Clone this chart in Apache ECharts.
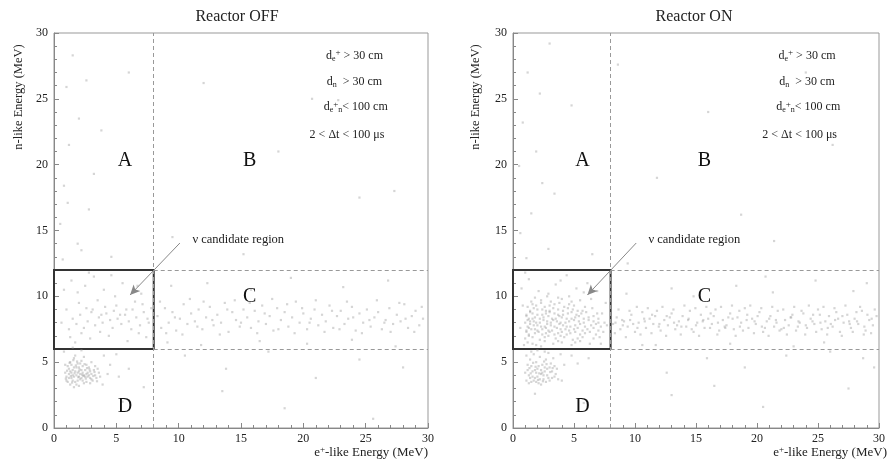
<!DOCTYPE html>
<html><head><meta charset="utf-8">
<script src="https://cdn.jsdelivr.net/npm/echarts@6/dist/echarts.min.js"></script>
<style>html,body{margin:0;padding:0;background:#fff}#c{width:888px;height:464px}</style>
</head><body><div id="c"></div>
<script>
// ---------- data (MeV) ----------
var panelTitles = ['Reactor OFF', 'Reactor ON'];
var axisTicks = [0, 5, 10, 15, 20, 25, 30];
var regionLetters = [['A', 5.7, 20.3], ['B', 15.7, 20.3], ['C', 15.7, 10.0], ['D', 5.7, 1.6]];
var cutLines = ['d_e+ > 30 cm', 'd_n > 30 cm', 'd_e+n < 100 cm', '2 < Δt < 100 μs'];

var offD = [[1.0,3.6],[1.2,4.1],[1.4,3.8],[1.5,4.4],[1.7,3.5],[1.8,4.0],[2.0,4.6],[2.1,3.7],[2.3,4.2],[2.4,3.4],[2.6,4.8],[2.7,3.9],[2.9,4.3],[3.1,3.6],[3.3,4.0],[3.5,4.5],[1.1,4.7],[1.3,5.0],[1.6,5.3],[1.9,4.9],[2.2,5.1],[2.5,4.4],[2.8,4.6],[3.0,5.0],[3.4,3.8],[3.6,4.2],[0.9,4.2],[1.0,3.9],[1.3,3.3],[1.6,3.1],[2.0,3.2],[2.3,3.6],[2.6,3.5],[2.9,3.8],[3.2,4.4],[1.5,4.0],[1.7,4.3],[1.9,3.6],[2.1,4.1],[2.4,4.0],[1.2,4.5],[1.4,4.8],[1.8,4.6],[2.2,4.4],[2.7,4.2],[1.1,3.5],[1.5,3.6],[2.0,3.9],[2.5,3.9],[3.0,4.1],[1.3,4.3],[1.6,4.6],[2.2,3.8],[2.8,4.0],[3.7,3.9],[1.7,5.5],[2.4,5.4],[0.9,4.8],[1.8,3.3],[2.9,3.4],[3.3,4.7],[1.4,4.2],[2.0,4.3],[2.6,4.1],[1.9,4.2],[1.2,3.8],[2.3,4.7],[1.6,3.9],[2.1,4.9],[3.0,3.7],[1.05,4.35],[1.35,3.95],[1.65,4.15],[1.95,3.85],[2.25,4.05],[2.55,3.75],[2.85,4.45],[3.15,3.95],[1.45,3.45],[1.75,4.75],[2.05,4.45],[2.35,3.95],[2.65,4.55],[1.25,4.95],[1.55,5.15],[1.85,5.05],[2.45,4.85],[3.25,4.25],[3.45,3.55],[0.95,3.75],[4.5,4.8],[5.2,3.9],[4.0,5.5],[3.9,3.3],[6.0,4.5],[0.8,5.8],[1.5,6.1],[2.2,5.9],[4.3,4.1],[5.0,5.6]];
var offBox = [[1.2,7.5],[1.5,8.3],[1.8,7.9],[2.1,8.6],[2.4,7.6],[2.7,8.1],[3.0,8.8],[3.3,7.8],[3.6,8.4],[3.9,8.0],[4.2,8.7],[4.5,8.2],[4.8,8.9],[5.1,8.3],[5.4,7.9],[5.7,8.6],[6.0,8.1],[6.3,9.0],[6.6,8.4],[6.9,7.8],[7.2,8.8],[7.5,8.3],[7.8,9.1],[2.0,9.5],[3.5,9.7],[5.0,9.3],[6.5,9.6],[7.0,10.2],[4.0,10.5],[2.5,10.8],[1.4,11.2],[3.2,11.5],[5.5,11.0],[6.8,7.2],[4.4,7.0],[2.9,6.8],[1.7,6.5],[5.9,6.6],[7.4,6.9],[3.7,7.3],[1.0,9.0],[0.6,8.0],[2.2,7.2],[4.7,7.6],[6.2,7.5],[5.3,8.6],[4.1,9.2],[3.1,9.0],[7.6,8.0],[6.7,10.8],[1.9,10.3],[4.9,10.0],[3.8,8.6],[2.6,9.1],[5.8,9.0],[7.1,9.4],[1.3,6.9],[0.8,10.5],[2.8,11.8],[4.6,11.6]];
var offC = [[8.3,8.5],[8.6,7.6],[8.9,9.1],[9.2,8.0],[9.5,8.8],[9.8,7.4],[10.1,8.3],[10.4,9.4],[10.7,7.9],[11.0,8.7],[11.3,8.1],[11.6,9.0],[11.9,7.5],[12.2,8.4],[12.5,9.2],[12.8,7.8],[13.1,8.6],[13.4,8.0],[13.7,9.5],[14.0,7.3],[14.3,8.8],[14.6,8.2],[14.9,7.7],[15.2,9.0],[15.5,8.4],[15.8,7.6],[16.1,8.9],[16.4,8.1],[16.7,9.3],[17.0,7.9],[17.3,8.5],[17.6,7.4],[17.9,9.1],[18.2,8.2],[18.5,8.8],[18.8,7.7],[19.1,8.4],[19.4,9.6],[19.7,8.0],[20.0,8.7],[20.3,7.5],[20.6,8.3],[20.9,9.0],[21.2,7.8],[21.5,8.6],[21.8,8.1],[22.1,9.3],[22.4,7.6],[22.7,8.5],[23.0,8.9],[23.3,7.9],[23.6,8.3],[23.9,9.2],[24.2,7.4],[24.5,8.7],[24.8,8.0],[25.1,9.0],[25.4,7.7],[25.7,8.4],[26.0,8.8],[26.3,7.5],[26.6,8.2],[26.9,9.1],[27.2,7.9],[27.5,8.6],[27.8,8.1],[28.1,9.4],[28.4,7.6],[28.7,8.5],[29.0,8.9],[29.3,7.8],[29.6,8.3],[8.5,9.6],[9.0,7.2],[9.7,8.4],[10.3,7.1],[10.9,9.8],[11.5,7.7],[12.0,9.6],[12.7,8.2],[13.3,7.1],[13.9,9.0],[14.5,9.7],[15.0,8.0],[15.7,9.5],[16.3,7.2],[16.9,8.7],[17.5,9.8],[18.0,7.5],[18.7,9.4],[19.3,7.2],[19.9,9.1],[20.5,8.0],[21.0,9.7],[21.7,7.3],[22.3,8.9],[22.9,7.5],[23.5,9.6],[24.0,8.4],[24.7,7.2],[25.3,8.2],[25.9,9.7],[26.5,8.0],[27.0,7.3],[27.7,9.5],[28.2,8.3],[28.9,7.3],[29.5,9.2],[9.4,10.8],[12.3,11.0],[15.8,10.5],[19.0,11.4],[23.2,10.7],[26.8,11.2],[10.5,5.5],[13.8,4.5],[17.2,5.8],[21.0,3.8],[24.5,5.2],[28.0,4.6],[11.8,6.3],[20.3,6.4],[27.4,6.2],[16.5,6.6],[23.9,6.7],[9.1,6.5]];
var offSparse = [[1.5,28.3],[2.0,23.5],[1.2,21.5],[0.8,18.4],[2.8,16.6],[1.9,14.0],[2.2,13.5],[0.5,15.5],[3.2,19.3],[1.0,25.9],[4.6,13.0],[12.0,26.2],[24.5,17.5],[18.0,21.0],[9.5,14.5],[27.3,18.0],[15.2,13.2],[6.0,27.0],[20.7,25.0],[0.7,12.8],[22.8,24.9],[3.8,22.6],[1.1,17.1],[2.6,26.4],[5.5,2.0],[18.5,1.5],[25.6,0.7],[13.5,2.8],[7.2,3.1]];

var onD = [[1.1,3.6],[1.3,4.0],[1.5,3.5],[1.6,4.3],[1.8,3.8],[2.0,4.5],[2.1,3.4],[2.3,4.1],[2.5,3.7],[2.6,4.6],[2.8,4.0],[3.0,3.6],[3.2,4.3],[3.4,3.9],[3.6,4.5],[1.2,4.8],[1.4,5.2],[1.7,5.6],[1.9,5.0],[2.2,5.4],[2.4,4.8],[2.7,5.2],[2.9,5.7],[3.1,4.9],[3.3,5.3],[1.0,4.2],[1.5,4.7],[2.0,3.9],[2.6,4.3],[3.0,4.6],[1.3,3.4],[1.8,4.4],[2.2,3.7],[2.4,4.2],[2.9,3.8],[3.5,4.1],[1.6,3.9],[2.1,4.7],[2.7,3.5],[1.2,4.4],[1.4,3.8],[1.9,4.2],[2.3,4.4],[2.5,4.0],[2.8,4.5],[3.2,3.8],[1.7,3.6],[2.0,5.9],[1.5,5.8],[2.6,5.8],[3.4,4.7],[3.7,3.7],[1.1,5.5],[2.3,3.3],[1.9,3.5],[2.75,4.85],[2.15,4.15],[1.65,4.95],[1.35,4.55],[2.45,3.55],[3.05,4.25],[1.85,4.65],[2.55,5.05],[3.25,4.55],[1.45,4.15],[2.05,3.65],[4.2,4.8],[4.8,5.5],[4.0,3.6],[5.3,4.9],[3.9,5.6],[6.2,5.3]];
var onBox = [[1.2,6.5],[1.9,6.3],[2.6,6.6],[3.3,6.4],[4.0,6.5],[4.8,6.3],[5.5,6.6],[6.3,6.4],[1.6,6.4],[2.3,6.2],[3.7,6.6],[5.1,6.5],[1.0,6.8],[1.6,6.9],[2.2,6.7],[2.9,7.0],[3.5,6.8],[4.2,6.9],[4.9,6.7],[5.7,6.9],[6.6,6.8],[1.3,7.0],[2.6,6.9],[3.9,7.0],[5.3,6.8],[7.1,6.9],[1.3,7.1],[1.8,7.2],[2.4,7.1],[3.0,7.3],[3.7,7.2],[4.4,7.1],[5.1,7.3],[5.9,7.2],[6.8,7.1],[7.4,7.3],[1.1,7.3],[2.1,7.3],[2.7,7.2],[3.4,7.1],[4.0,7.3],[4.7,7.2],[5.5,7.1],[6.3,7.3],[1.1,7.4],[1.5,7.5],[2.0,7.4],[2.7,7.6],[3.2,7.4],[3.9,7.5],[4.6,7.4],[5.3,7.6],[6.1,7.5],[7.0,7.4],[1.3,7.6],[1.8,7.5],[2.4,7.5],[2.9,7.4],[3.6,7.6],[4.3,7.5],[5.0,7.5],[5.7,7.4],[6.6,7.6],[1.2,7.7],[1.7,7.8],[2.3,7.7],[2.8,7.9],[3.4,7.7],[4.1,7.8],[4.7,7.7],[5.5,7.9],[6.4,7.8],[7.2,7.7],[1.4,7.9],[2.0,7.8],[2.6,7.7],[3.1,7.8],[3.8,7.9],[4.4,7.7],[5.1,7.8],[5.9,7.7],[6.8,7.9],[1.0,8.0],[1.4,8.1],[1.9,8.0],[2.5,8.2],[3.1,8.0],[3.6,8.1],[4.3,8.0],[5.0,8.2],[5.8,8.0],[6.6,8.1],[7.5,8.0],[1.2,8.2],[1.7,8.1],[2.2,8.0],[2.8,8.1],[3.3,8.2],[3.9,8.0],[4.6,8.1],[5.4,8.1],[6.2,8.2],[7.0,8.0],[1.3,8.3],[1.8,8.4],[2.2,8.3],[2.9,8.5],[3.5,8.3],[4.0,8.4],[4.8,8.3],[5.4,8.5],[6.2,8.4],[7.0,8.3],[1.1,8.5],[1.6,8.3],[2.5,8.4],[3.2,8.3],[3.8,8.5],[4.4,8.3],[5.1,8.4],[5.8,8.3],[6.6,8.5],[1.1,8.6],[1.6,8.7],[2.4,8.6],[3.0,8.8],[3.7,8.6],[4.5,8.7],[5.2,8.6],[6.0,8.8],[6.9,8.7],[1.4,8.8],[2.0,8.6],[2.7,8.7],[3.4,8.7],[4.1,8.6],[4.8,8.8],[5.6,8.7],[1.4,8.9],[2.0,9.0],[2.7,8.9],[3.3,9.1],[4.1,8.9],[4.9,9.0],[5.7,8.9],[6.5,9.1],[1.7,9.1],[2.4,9.0],[3.0,8.9],[3.7,9.0],[4.5,9.1],[5.3,8.9],[1.2,9.2],[1.9,9.3],[2.6,9.2],[3.4,9.4],[4.2,9.2],[5.0,9.3],[5.9,9.2],[1.6,9.4],[2.3,9.5],[3.0,9.3],[3.8,9.5],[4.6,9.4],[1.5,9.6],[2.3,9.7],[3.1,9.6],[4.0,9.8],[4.8,9.6],[1.8,9.9],[2.8,10.0],[3.7,9.9],[4.6,10.0],[5.5,9.7],[2.1,10.4],[3.5,10.9],[1.3,11.3],[5.2,10.6],[6.4,9.8],[4.4,11.6],[0.8,9.3],[7.3,8.7],[7.7,7.8],[0.6,7.6],[2.9,10.2],[6.1,11.0],[0.7,10.6],[7.6,9.5],[6.9,10.4],[1.0,11.8],[3.9,11.2],[7.2,6.4],[0.9,6.3],[5.8,10.3]];
var onC = [[8.2,7.9],[8.5,8.4],[8.8,7.5],[9.1,8.1],[9.4,7.7],[9.7,8.6],[10.0,7.3],[10.3,8.0],[10.6,8.8],[10.9,7.6],[11.2,8.3],[11.5,7.9],[11.8,8.9],[12.1,7.4],[12.4,8.2],[12.7,7.8],[13.0,8.7],[13.3,7.5],[13.6,8.1],[13.9,8.5],[14.2,7.7],[14.5,8.9],[14.8,7.3],[15.1,8.0],[15.4,8.6],[15.7,7.6],[16.0,8.3],[16.3,7.9],[16.6,9.0],[16.9,7.4],[17.2,8.2],[17.5,7.8],[17.8,8.7],[18.1,7.5],[18.4,8.4],[18.7,8.0],[19.0,9.1],[19.3,7.6],[19.6,8.3],[19.9,7.9],[20.2,8.8],[20.5,7.3],[20.8,8.1],[21.1,8.5],[21.4,7.7],[21.7,8.9],[22.0,7.5],[22.3,8.2],[22.6,7.8],[22.9,8.6],[23.2,7.4],[23.5,8.0],[23.8,8.7],[24.1,7.6],[24.4,8.3],[24.7,7.9],[25.0,9.0],[25.3,7.5],[25.6,8.1],[25.9,8.5],[26.2,7.7],[26.5,8.8],[26.8,7.3],[27.1,8.0],[27.4,8.6],[27.7,7.6],[28.0,8.3],[28.3,7.9],[28.6,8.9],[28.9,7.4],[29.2,8.2],[29.5,7.8],[29.8,8.5],[8.35,7.2],[8.65,9.0],[8.95,8.2],[9.25,6.9],[9.55,8.9],[9.85,7.9],[10.15,9.2],[10.45,7.1],[10.75,8.3],[11.05,9.1],[11.35,7.2],[11.65,8.5],[11.95,7.7],[12.25,9.2],[12.55,7.0],[12.85,8.4],[13.15,9.0],[13.45,7.8],[13.75,7.1],[14.05,9.3],[14.35,8.2],[14.65,7.5],[14.95,9.1],[15.25,7.0],[15.55,8.1],[15.85,9.2],[16.15,7.6],[16.45,8.5],[16.75,7.1],[17.05,9.2],[17.35,7.7],[17.65,8.4],[17.95,9.3],[18.25,7.0],[18.55,8.9],[18.85,7.4],[19.15,8.2],[19.45,9.3],[19.75,7.2],[20.05,8.5],[20.35,9.1],[20.65,7.6],[20.95,7.0],[21.25,9.2],[21.55,8.2],[21.85,7.4],[22.15,9.0],[22.45,7.1],[22.75,8.4],[23.05,9.2],[23.35,7.7],[23.65,8.9],[23.95,7.1],[24.25,9.3],[24.55,8.1],[24.85,7.3],[25.15,8.6],[25.45,9.2],[25.75,7.1],[26.05,7.9],[26.35,9.1],[26.65,8.3],[26.95,7.0],[27.25,9.3],[27.55,8.1],[27.85,7.3],[28.15,8.8],[28.45,9.2],[28.75,7.1],[29.05,8.6],[29.35,7.2],[29.65,9.0],[8.4,8.0],[9.0,7.8],[9.6,8.2],[10.2,7.6],[10.8,8.1],[11.4,8.6],[12.0,7.9],[12.6,8.5],[13.2,8.0],[13.8,7.7],[14.4,8.3],[15.0,7.8],[15.6,8.2],[16.2,8.7],[16.8,8.0],[17.4,7.6],[18.0,8.3],[18.6,7.7],[19.2,8.6],[19.8,8.1],[20.4,7.7],[21.0,8.3],[21.6,8.0],[22.2,7.6],[22.8,8.4],[23.4,8.1],[24.0,7.8],[24.6,8.6],[25.2,8.0],[25.8,7.6],[26.4,8.2],[27.0,8.5],[27.6,7.9],[28.2,8.1],[28.8,7.7],[29.4,8.3],[9.3,10.2],[11.7,6.3],[13.0,10.6],[15.9,5.3],[17.8,6.4],[19.0,4.6],[21.3,10.3],[23.0,6.2],[24.8,11.2],[26.0,5.8],[27.9,10.4],[28.7,5.3],[29.6,4.6],[12.6,4.2],[10.6,6.3],[18.3,10.8],[22.4,5.5],[14.8,10.0],[20.7,11.5],[25.5,6.5],[29.0,11.0],[16.5,3.2]];
var onSparse = [[1.2,27.0],[0.8,23.2],[1.9,21.0],[2.4,18.6],[1.5,16.3],[0.6,14.8],[2.9,13.6],[1.1,12.9],[3.4,17.8],[4.8,24.5],[0.5,19.9],[2.2,25.4],[6.5,13.2],[9.4,12.5],[11.8,19.0],[16.0,24.0],[21.4,14.2],[26.2,21.5],[13.0,2.5],[20.5,1.6],[27.5,3.0],[5.8,1.9],[1.8,2.6],[3.0,29.2],[8.6,27.6],[24.0,27.0],[18.7,16.2]];

// cut boundaries
var cutX = 8, cutYlow = 6, cutYhigh = 12, axisMax = 30;

// ---------- chart ----------
var SERIF = '"Liberation Serif","DejaVu Serif",serif';
var chart = echarts.init(document.getElementById('c'), null, {renderer: 'canvas'});
var grids = [{left: 54, top: 33, width: 374, height: 395}, {left: 513, top: 33, width: 374, height: 395}];

function axisCommon(i) {
  return {
    gridIndex: i, type: 'value', min: 0, max: axisMax, interval: 5,
    axisLine: {show: true, lineStyle: {color: '#888', width: 1}},
    axisTick: {show: true, inside: true, length: 5, lineStyle: {color: '#888'}},
    minorTick: {show: true, splitNumber: 5, length: 3, lineStyle: {color: '#888'}},
    splitLine: {show: false},
    axisLabel: {fontFamily: SERIF, fontSize: 12, color: '#222', customValues: axisTicks}
  };
}
var xAxes = [0, 1].map(function (i) { var a = axisCommon(i); a.axisLabel.margin = 5; return a; });
var yAxes = [0, 1].map(function (i) { var a = axisCommon(i); a.axisLabel.margin = 6; return a; });

var rich = {
  b: {fontFamily: SERIF, fontSize: 12, color: '#222'},
  sub: {fontFamily: SERIF, fontSize: 8, color: '#222', padding: [7, 0, 0, 0]},
  sup: {fontFamily: SERIF, fontSize: 9, color: '#222', padding: [0, 0, 5, 0]}
};
var cutRich = [
  '{b|d}{sub|e}{sup|+}{b| > 30 cm}',
  '{b|d}{sub|n}{b|  > 30 cm}',
  '{b|d}{sub|e}{sup|+}{sub|n}{b|< 100 cm}',
  '{b|2 < Δt < 100 μs}'
];
var cutPos = [[24.1, 28.3], [24.1, 26.3], [24.2, 24.4], [23.5, 22.3]];

function markPoints() {
  var d = [];
  regionLetters.forEach(function (r) {
    d.push({coord: [r[1], r[2]], label: {show: true, position: 'inside', formatter: r[0],
      fontFamily: SERIF, fontSize: 20, color: '#111'}});
  });
  cutRich.forEach(function (t, k) {
    d.push({coord: cutPos[k], label: {show: true, position: 'inside', formatter: t, rich: rich}});
  });
  d.push({coord: [11.1, 14.3], label: {show: true, position: 'right', distance: 0,
    formatter: 'ν candidate region', fontFamily: SERIF, fontSize: 12.5, color: '#222'}});
  return {symbol: 'circle', symbolSize: 0.01, silent: true, itemStyle: {color: 'rgba(0,0,0,0)'}, data: d};
}
function markLines() {
  var dash = {color: '#999', type: [4, 3], width: 1};
  return {
    silent: true, symbol: ['none', 'none'], label: {show: false}, animation: false,
    data: [
      [{coord: [cutX, 0], lineStyle: dash}, {coord: [cutX, axisMax]}],
      [{coord: [cutX, cutYhigh], lineStyle: dash}, {coord: [axisMax, cutYhigh]}],
      [{coord: [cutX, cutYlow], lineStyle: dash}, {coord: [axisMax, cutYlow]}],
      [{coord: [10.1, 14.05], symbol: 'none', lineStyle: {color: '#888', type: 'solid', width: 1}},
       {coord: [6.1, 10.1], symbol: 'arrow', symbolSize: [7, 10]}]
    ]
  };
}
function markArea() {
  return {silent: true, itemStyle: {color: 'rgba(0,0,0,0)', borderColor: '#333', borderWidth: 2},
    data: [[{coord: [0, cutYlow]}, {coord: [cutX, cutYhigh]}]]};
}

var panelData = [
  [].concat(offD, offBox, offC, offSparse),
  [].concat(onD, onBox, onC, onSparse)
];
var series = [0, 1].map(function (i) {
  return {
    type: 'scatter', xAxisIndex: i, yAxisIndex: i, data: panelData[i],
    symbol: 'rect', symbolSize: 2.2, silent: true,
    itemStyle: {color: 'rgba(150,150,150,0.5)'},
    markLine: markLines(), markArea: markArea(), markPoint: markPoints(), z: 2
  };
});

var xNameX = [428, 887], yNameX = [19, 476], titleX = [232, 689];
var graphic = [];
[0, 1].forEach(function (i) {
  graphic.push({type: 'text', x: yNameX[i], y: 97, rotation: Math.PI / 2,
    style: {text: 'n-like Energy (MeV)', font: '12.5px ' + SERIF, fill: '#222', align: 'center', verticalAlign: 'middle'}});
  graphic.push({type: 'text', x: xNameX[i], y: 453,
    style: {text: '{b|e}{s|+}{b|-like Energy (MeV)}', align: 'right', verticalAlign: 'middle',
      rich: {b: {fontFamily: SERIF, fontSize: 13, fill: '#222', color: '#222'},
             s: {fontFamily: SERIF, fontSize: 9, fill: '#222', color: '#222', padding: [0, 0, 6, 0]}}}});
});

chart.setOption({
  animation: false,
  backgroundColor: '#fff',
  title: [0, 1].map(function (i) {
    return {text: panelTitles[i], left: titleX[i], top: 4, textAlign: 'center',
      textStyle: {fontFamily: SERIF, fontSize: 16, fontWeight: 'normal', color: '#222'}};
  }),
  grid: grids.map(function (g) { return Object.assign({show: true, borderColor: '#999', borderWidth: 1}, g); }),
  xAxis: xAxes, yAxis: yAxes, series: series, graphic: graphic
});
</script></body></html>
